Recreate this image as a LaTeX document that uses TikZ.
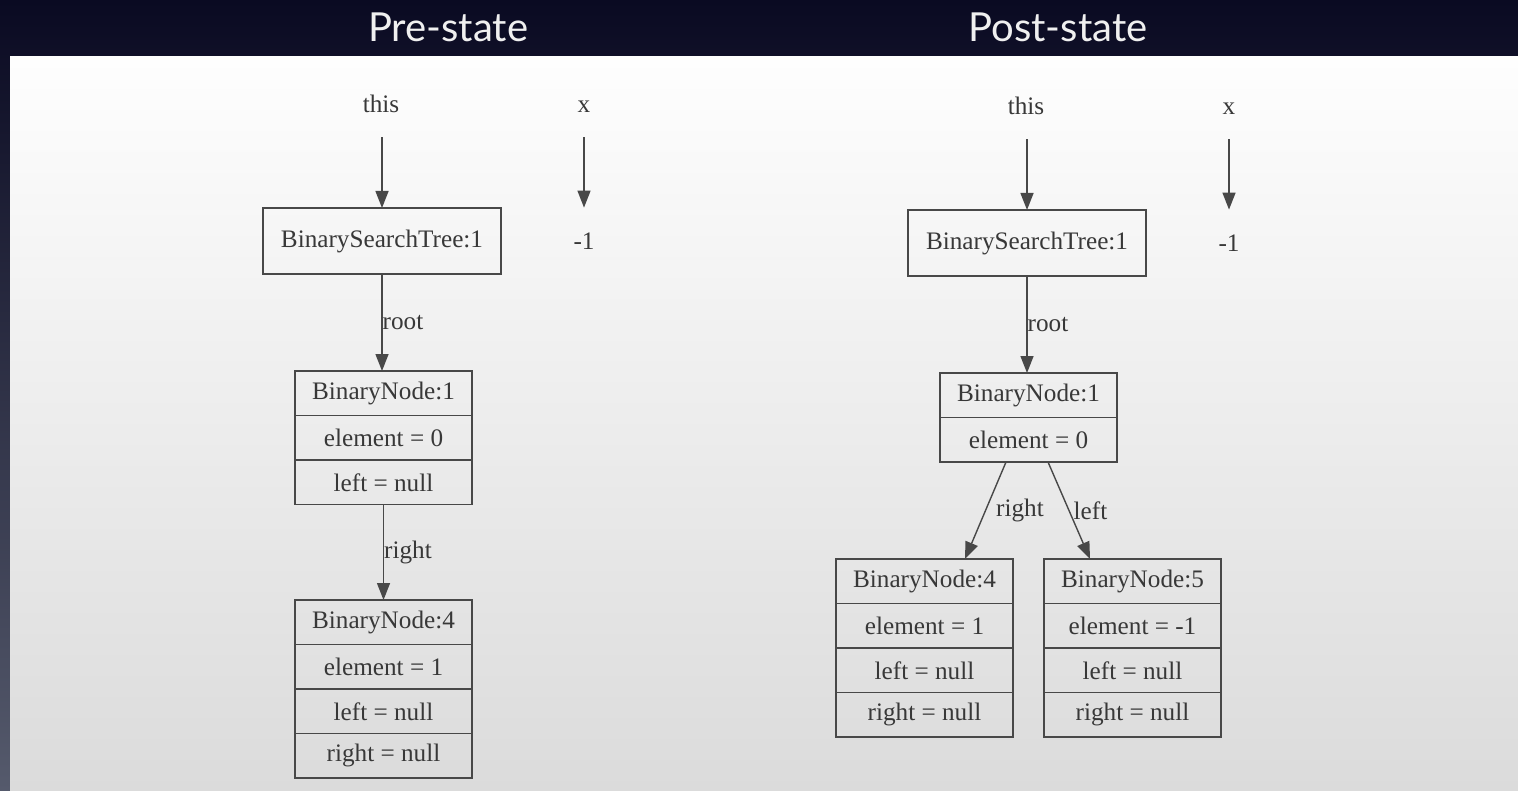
\documentclass[tikz,border=0pt]{standalone}
\usepackage{fontspec}
\setmainfont{Liberation Serif}
\newfontfamily\titlefont{Lato}
\usetikzlibrary{arrows.meta,calc}
\definecolor{inkgray}{HTML}{383838}
\definecolor{linegray}{HTML}{484848}
\definecolor{bandtop}{HTML}{0A0A22}
\definecolor{bandbottom}{HTML}{555A6C}
\definecolor{paneltop}{HTML}{FEFEFE}
\definecolor{panelbottom}{HTML}{DBDBDB}
\tikzset{
  txt/.style={text=inkgray, font=\fontsize{12.6pt}{14pt}\selectfont},
  varname/.style={txt, inner sep=0pt, text height=8.6pt, text depth=0pt,
    minimum height=33pt, minimum width=20pt},
  objbox/.style={txt, draw=linegray, line width=0.7pt, inner sep=0pt,
    outer sep=0pt, minimum width=119pt, minimum height=33pt},
  fieldbox/.style={txt, draw=linegray, line width=0.7pt, inner sep=0pt,
    outer sep=0pt, minimum width=88.5pt, minimum height=22.25pt},
  ref/.style={draw=linegray, line width=0.7pt,
    -{Triangle[length=8.5pt,width=6.5pt]}},
  edgelabel/.style={txt, inner sep=0pt},
  heading/.style={text=white!94!black, font=\titlefont\fontsize{20pt}{24pt}\selectfont}
}
\begin{document}
\begin{tikzpicture}[x=0.5pt,y=-0.5pt]
  % backdrop and light panel
  \useasboundingbox (0,0) rectangle (1518,791);
  \shade[top color=bandtop, bottom color=bandbottom] (0,0) rectangle (1518,791);
  \shade[top color=paneltop, bottom color=panelbottom] (10,57) rectangle (1518,791);

  % headings
  \node[heading] (hpre) at (448,27) {Pre-state};
  \node[heading] (hpost) at (1058,27) {Post-state};

  % ---------- pre-state ----------
  \node[varname] (thisL) at (381,104) {this};
  \node[varname] (xL) at (584,104) {x};
  \node[objbox] (bstL) at (382,241) {BinarySearchTree:1};
  \node[varname] (valL) at (584,241) {-1};

  \node[fieldbox, anchor=north] (n1La) at (383.5,371) {BinaryNode:1};
  \node[fieldbox, anchor=north] (n1Lb) at (n1La.south) {element = 0};
  \node[fieldbox, anchor=north] (n1Lc) at (n1Lb.south) {left = null};

  \node[fieldbox, anchor=north] (n4La) at (383.5,600) {BinaryNode:4};
  \node[fieldbox, anchor=north] (n4Lb) at (n4La.south) {element = 1};
  \node[fieldbox, anchor=north] (n4Lc) at (n4Lb.south) {left = null};
  \node[fieldbox, anchor=north] (n4Ld) at (n4Lc.south) {right = null};

  \draw[ref] (thisL.south -| bstL.north) -- (bstL.north);
  \draw[ref] (xL.south) -- (valL.north);
  \draw[ref] (bstL.south) -- (bstL.south |- n1La.north)
    node[edgelabel, pos=0.5, right] {root};
  \draw[ref] (n1Lc.south) -- (n4La.north)
    node[edgelabel, pos=0.5, right] {right};

  % ---------- post-state ----------
  \node[varname] (thisR) at (1026,106) {this};
  \node[varname] (xR) at (1229,106) {x};
  \node[objbox] (bstR) at (1027,243) {BinarySearchTree:1};
  \node[varname] (valR) at (1229,243) {-1};

  \node[fieldbox, anchor=north] (n1Ra) at (1028.5,373) {BinaryNode:1};
  \node[fieldbox, anchor=north] (n1Rb) at (n1Ra.south) {element = 0};

  \node[fieldbox, anchor=north] (n4Ra) at (924.5,559) {BinaryNode:4};
  \node[fieldbox, anchor=north] (n4Rb) at (n4Ra.south) {element = 1};
  \node[fieldbox, anchor=north] (n4Rc) at (n4Rb.south) {left = null};
  \node[fieldbox, anchor=north] (n4Rd) at (n4Rc.south) {right = null};

  \node[fieldbox, anchor=north] (n5Ra) at (1132.5,559) {BinaryNode:5};
  \node[fieldbox, anchor=north] (n5Rb) at (n5Ra.south) {element = -1};
  \node[fieldbox, anchor=north] (n5Rc) at (n5Rb.south) {left = null};
  \node[fieldbox, anchor=north] (n5Rd) at (n5Rc.south) {right = null};

  \draw[ref] (thisR.south -| bstR.north) -- (bstR.north);
  \draw[ref] (xR.south) -- (valR.north);
  \draw[ref] (bstR.south) -- (bstR.south |- n1Ra.north)
    node[edgelabel, pos=0.5, right] {root};
  \draw[ref] ($(n1Rb.south)+(-22.5,0)$) -- ($(n4Ra.north)+(40.5,0)$)
    node[edgelabel, pos=0.5, right=5pt] {right};
  \draw[ref] ($(n1Rb.south)+(19.5,0)$) -- ($(n5Ra.north)+(-42.5,0)$)
    node[edgelabel, pos=0.5, right=2pt] {left};
\end{tikzpicture}
\end{document}
